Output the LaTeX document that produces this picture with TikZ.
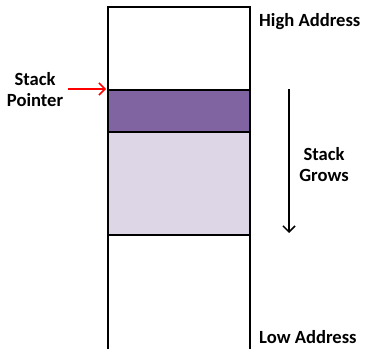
\documentclass[tikz,border=0pt]{standalone}
\usepackage{fontspec}
\setmainfont{Carlito}
\usetikzlibrary{arrows.meta}
\definecolor{spcolor}{RGB}{128,100,162}
\definecolor{framecolor}{RGB}{220,214,230}
\tikzset{
  lbl/.style={font=\fontsize{18.6}{21}\selectfont\bfseries, inner sep=0pt, align=center},
  wall/.style={line width=2.2pt, draw=black},
  barb/.style={line width=1.5pt, -{Straight Barb[length=6pt,width=12pt]}},
}
\begin{document}
\begin{tikzpicture}[x=1pt,y=-1pt]
\useasboundingbox (0,0) rectangle (366,348);
% filled regions of the stack
\fill[framecolor] (108,132) rectangle (250,235);
\fill[spcolor] (108,90) rectangle (250,132);
% memory column
\draw[wall] (108,350) -- (108,7) -- (250,7) -- (250,350);
\draw[wall] (108,90) -- (250,90);
\draw[wall] (108,132) -- (250,132);
\draw[wall] (108,235) -- (250,235);
\coordinate (sp) at (106,89);
% labels
\node[lbl, anchor=west] (high) at (259,22) {High Address};
\node[lbl, anchor=west] (low) at (259,337) {Low Address};
\node[lbl] (ptr) at (35,90) {Stack\\Pointer};
\node[lbl] (grows) at (324,165) {Stack\\Grows};
% arrows
\coordinate (ptrtip) at (68,89);
\draw[red, barb] (ptrtip) -- (sp);
\coordinate (gtop) at (289,89);
\coordinate (gbot) at (289,233);
\draw[black, barb] (gtop) -- (gbot);
\end{tikzpicture}
\end{document}
